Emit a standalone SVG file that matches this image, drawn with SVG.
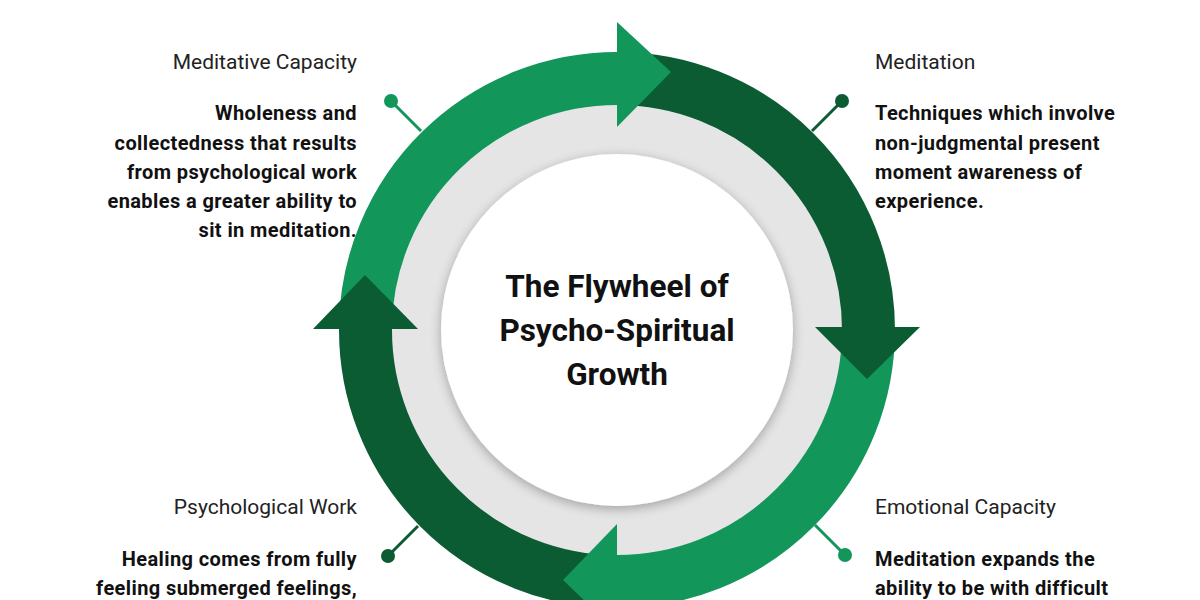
<svg xmlns="http://www.w3.org/2000/svg" width="1200" height="600" viewBox="0 0 1200 600">
<style>
.h{font-family:Roboto,"Liberation Sans",sans-serif;font-size:21px;fill:#222}
.b{font-family:Roboto,"Liberation Sans",sans-serif;font-size:20px;letter-spacing:0.4px;font-weight:bold;fill:#111}
.t{font-family:Roboto,"Liberation Sans",sans-serif;font-size:31.5px;font-weight:bold;fill:#111;text-anchor:middle}
.r{text-anchor:end}
.lg{fill:#12965a}.dg{fill:#0b5c33}
.band{fill:none;stroke-width:53}
</style>
<defs>
<filter id="sh" x="-20%" y="-20%" width="140%" height="140%"><feGaussianBlur in="SourceAlpha" stdDeviation="6"/><feOffset dx="0" dy="3"/><feComponentTransfer><feFuncA type="linear" slope="0.3"/></feComponentTransfer><feMerge><feMergeNode/><feMergeNode in="SourceGraphic"/></feMerge></filter>
</defs>
<rect width="1200" height="600" fill="#fff"/>
<g id="wheel">
<circle cx="617" cy="330" r="226" fill="#e5e5e5"/>
<circle cx="617" cy="330" r="176" fill="#fff" filter="url(#sh)"/>
</g>
<g id="connectors">
<path class="band" stroke="#12965a" d="M365.5 325 A251.5 251.5 0 0 1 617 78.5"/>
<path class="band" stroke="#0b5c33" d="M617 78.5 A251.5 251.5 0 0 1 868.5 330"/>
<path class="band" stroke="#12965a" d="M868.5 330 A251.5 251.5 0 0 1 617 581.5"/>
<path class="band" stroke="#0b5c33" d="M617 581.5 A251.5 251.5 0 0 1 365.5 329"/>
<polygon class="lg" points="617,22 617,127 671,72"/>
<polygon class="dg" points="815,327 920,327 867,379"/>
<polygon class="lg" points="617,524 617,632 563,580"/>
<polygon class="dg" points="313,329 418,329 365,275"/>
<g stroke-width="3">
<line x1="391" y1="101" x2="421" y2="131" stroke="#12965a"/><circle cx="391" cy="101" r="7" class="lg"/>
<line x1="842" y1="101" x2="812" y2="131" stroke="#0b5c33"/><circle cx="842" cy="101" r="7" class="dg"/>
<line x1="388" y1="556" x2="418" y2="526" stroke="#0b5c33"/><circle cx="388" cy="556" r="7" class="dg"/>
<line x1="845" y1="555" x2="815" y2="525" stroke="#12965a"/><circle cx="845" cy="555" r="7" class="lg"/>
</g>
</g>
<g id="title">
<text class="t" x="617" y="297">The Flywheel of</text>
<text class="t" x="617" y="341">Psycho-Spiritual</text>
<text class="t" x="617" y="385">Growth</text>
</g>
<g id="meditative-capacity">
<text class="h r" x="357" y="69">Meditative Capacity</text>
<text class="b r" x="357" y="120">Wholeness and</text>
<text class="b r" x="357" y="150">collectedness that results</text>
<text class="b r" x="357" y="179">from psychological work</text>
<text class="b r" x="357" y="208">enables a greater ability to</text>
<text class="b r" x="357" y="237">sit in meditation.</text>
</g>
<g id="meditation">
<text class="h" x="875" y="69">Meditation</text>
<text class="b" x="875" y="120">Techniques which involve</text>
<text class="b" x="875" y="150">non-judgmental present</text>
<text class="b" x="875" y="179">moment awareness of</text>
<text class="b" x="875" y="208">experience.</text>
</g>
<g id="psychological-work">
<text class="h r" x="357" y="514">Psychological Work</text>
<text class="b r" x="357" y="566">Healing comes from fully</text>
<text class="b r" x="357" y="595">feeling submerged feelings,</text>
</g>
<g id="emotional-capacity">
<text class="h" x="875" y="514">Emotional Capacity</text>
<text class="b" x="875" y="566">Meditation expands the</text>
<text class="b" x="875" y="595">ability to be with difficult</text>
</g>
</svg>
